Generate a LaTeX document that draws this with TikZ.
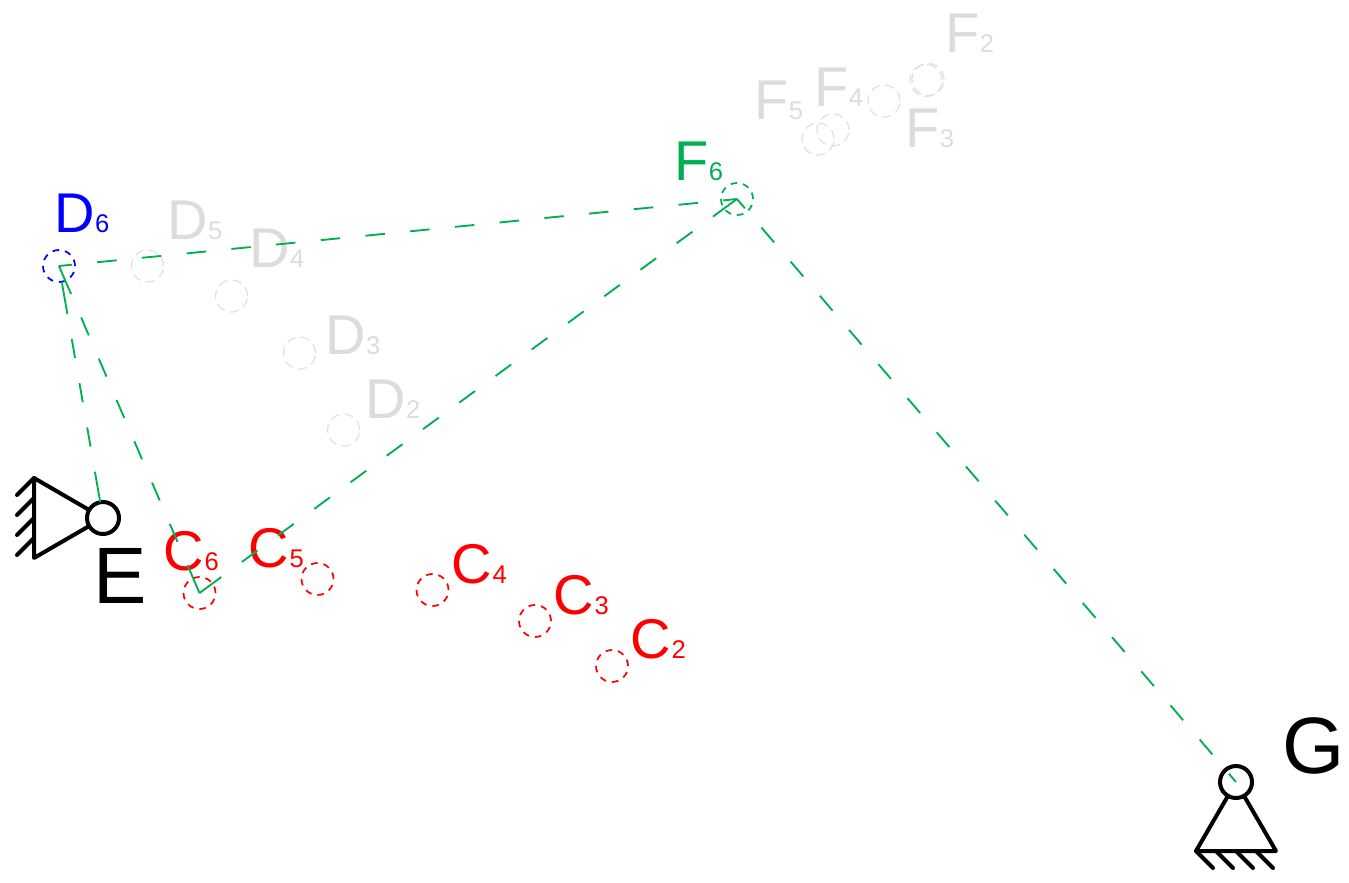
\documentclass[tikz,border=0pt]{standalone}
\usepackage{fontspec}
\setmainfont{Liberation Sans}
\definecolor{lgreen}{HTML}{00B050}
\definecolor{lgray}{HTML}{DCDCDC}
\definecolor{cgray}{HTML}{E0E0E0}
\tikzset{
  lab/.style={inner sep=0pt,outer sep=0pt,anchor=base west,font=\fontsize{42}{42}\selectfont},
  biglab/.style={inner sep=0pt,outer sep=0pt,anchor=base west,font=\fontsize{60}{60}\selectfont,text=black},
  mark red/.style={circle,draw=red,line width=1.3pt,dash pattern=on 4.9pt off 4.5pt,minimum size=24pt,inner sep=0pt,outer sep=0pt},
  mark blue/.style={mark red,draw=blue},
  mark green/.style={mark red,draw=lgreen},
  mark gray/.style={mark red,draw=cgray,line width=.9pt,dash pattern=on 7pt off 4pt},
  pivot/.style={circle,draw=black,line width=3pt,minimum size=24pt,inner sep=0pt,outer sep=0pt},
  frame/.style={draw=black,line width=3pt,line cap=round,line join=round},
  link/.style={draw=lgreen,line width=1.4pt},
}
\newcommand{\lbl}[6]{\node[lab,text=#4] (#1) at (#2+1.5,#3) {#5{\fontsize{19.2}{20}\selectfont\hspace{.5pt}#6}};}
\begin{document}
\begin{tikzpicture}[x=0.75pt,y=-0.75pt]
\useasboundingbox (0,0) rectangle (1349,882);
% labels
\lbl{tD6}{52.6}{232}{blue}{D}{6}
\lbl{tD5}{165.6}{239}{lgray}{D}{5}
\lbl{tD4}{247.6}{267}{lgray}{D}{4}
\lbl{tD3}{323.6}{354}{lgray}{D}{3}
\lbl{tD2}{363.6}{418}{lgray}{D}{2}
\lbl{tC6}{162}{570}{red}{C}{6}
\lbl{tC5}{247}{567}{red}{C}{5}
\lbl{tC4}{450}{583}{red}{C}{4}
\lbl{tC3}{552}{614}{red}{C}{3}
\lbl{tC2}{629}{658}{red}{C}{2}
\lbl{tF6}{672.5}{180}{lgreen}{F}{6}
\lbl{tF5}{752.5}{119}{lgray}{F}{5}
\lbl{tF4}{812.5}{106}{lgray}{F}{4}
\lbl{tF3}{903.5}{147}{lgray}{F}{3}
\lbl{tF2}{943.5}{52}{lgray}{F}{2}
\node[biglab] (tE) at (93,603) {E};
\node[biglab] (tG) at (1282,773) {G};
% position markers
\node[mark blue] (D6) at (59,266) {};
\node[mark gray] (D5) at (147.5,266) {};
\node[mark gray] (D4) at (231.5,296) {};
\node[mark gray] (D3) at (299.5,353) {};
\node[mark gray] (D2) at (343.5,430) {};
\node[mark red] (C6) at (199.5,593) {};
\node[mark red] (C5) at (317.5,579) {};
\node[mark red] (C4) at (432.5,590) {};
\node[mark red] (C3) at (535,621) {};
\node[mark red] (C2) at (612,666) {};
\node[mark green] (F6) at (737,199) {};
\node[mark gray] (F5) at (818,139) {};
\node[mark gray] (F4b) at (833,130) {};
\node[mark gray] (F4) at (884,101) {};
\node[mark gray] (F3) at (926,80.5) {};
\node[mark gray] (F2) at (928,79.5) {};
% pivots
\node[pivot] (E) at (103,518) {};
\node[pivot] (G) at (1236,782) {};
% ground E
\coordinate (Ea) at (34,478);
\coordinate (Eb) at (34,558);
\draw[frame] (E) -- (Ea) -- (Eb) -- (E);
\foreach \yy in {478,498,518,538}
  \draw[frame] (34,\yy) -- (17,\yy+17);
% ground G
\coordinate (Ga) at (1196,851);
\coordinate (Gb) at (1276,851);
\draw[frame] (G) -- (Ga) -- (Gb) -- (G);
\foreach \xx in {1196,1216,1236,1256}
  \draw[frame] (\xx,851) -- (\xx+17,868);
% links
\draw[link,dash pattern=on 23.25pt off 19.1pt on 14.6pt off 19.1pt on 14.6pt off 19.1pt on 14.6pt off 19.1pt on 23.25pt off 19.1pt] (E) -- (D6);
\draw[link,dash pattern=on 22.9pt off 19.1pt on 14.6pt off 19.1pt on 14.6pt off 19.1pt on 14.6pt off 19.1pt on 14.6pt off 19.1pt on 14.6pt off 19.1pt on 14.6pt off 19.1pt on 30pt off 19.1pt] (D6.center) -- (C6.center);
\draw[link,dash pattern=on 14.6pt off 19.1pt,dash phase=4.9pt] (D6.center) -- (F6.center);
\draw[link,dash pattern=on 20.25pt off 19.1pt on 14.6pt off 19.1pt on 14.6pt off 19.1pt on 14.6pt off 19.1pt on 14.6pt off 19.1pt on 14.6pt off 19.1pt on 14.6pt off 19.1pt on 14.6pt off 19.1pt on 14.6pt off 19.1pt on 14.6pt off 19.1pt on 14.6pt off 19.1pt on 14.6pt off 19.1pt on 14.6pt off 19.1pt on 14.6pt off 19.1pt on 25pt off 19.1pt] (C6.center) -- (F6.center);
\draw[link,dash pattern=on 14.6pt off 19.1pt,dash phase=6.4pt] (G.center) -- (F6.center);
\end{tikzpicture}
\end{document}
